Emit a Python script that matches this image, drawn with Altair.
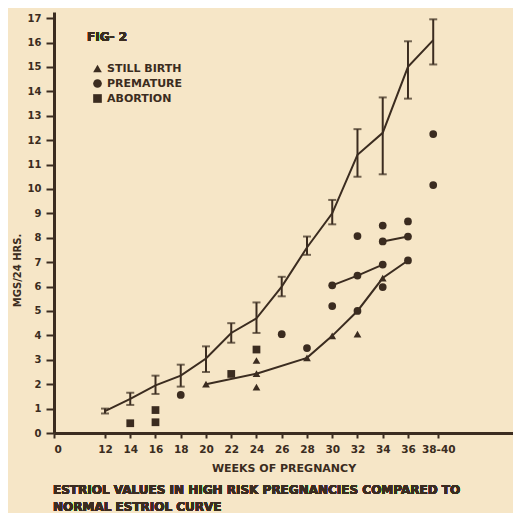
import altair as alt
import pandas as pd

INK = "#3b2c20"
PAPER = "#f6e6c7"
FONT = "DejaVu Sans"

# Normal estriol curve (mean with range bars)
norm_weeks = [12, 14, 16, 18, 20, 22, 24, 26, 28, 30, 32, 34, 36, 38]
norm_mean = [0.9, 1.4, 1.95, 2.35, 3.05, 4.1, 4.7, 6.0, 7.6, 9.0, 11.4, 12.3, 15.0, 16.1]
norm_low = [0.8, 1.15, 1.6, 1.9, 2.5, 3.7, 4.1, 5.6, 7.3, 8.55, 10.5, 10.6, 13.7, 15.1]
norm_high = [1.0, 1.65, 2.35, 2.8, 3.55, 4.5, 5.35, 6.4, 8.05, 9.55, 12.45, 13.75, 16.05, 16.95]

# Connected high-risk series
line_a_weeks = [20, 24, 28, 30, 32, 34, 36]
line_a_vals = [2.0, 2.43, 3.08, 3.98, 5.0, 6.35, 7.07]
line_b_weeks = [30, 32, 34]
line_b_vals = [6.05, 6.45, 6.9]
line_c_weeks = [34, 36]
line_c_vals = [7.85, 8.05]

# High-risk individual values
pt_weeks = [14, 16, 16, 18, 20, 22, 24, 24, 24, 24, 26, 28, 28, 30, 30, 30,
            32, 32, 32, 32, 34, 34, 34, 34, 34, 36, 36, 36, 38, 38]
pt_vals = [0.4, 0.94, 0.44, 1.56, 2.0, 2.42, 3.42, 2.97, 2.43, 1.88, 4.05, 3.48, 3.08, 6.05, 5.2, 3.98,
           8.07, 6.45, 5.0, 4.05, 8.5, 7.85, 6.9, 6.35, 5.98, 8.67, 8.05, 7.07, 12.25, 10.16]
pt_type = ["ABORTION", "ABORTION", "ABORTION", "PREMATURE", "STILL BIRTH", "ABORTION",
           "ABORTION", "STILL BIRTH", "STILL BIRTH", "STILL BIRTH", "PREMATURE", "PREMATURE",
           "STILL BIRTH", "PREMATURE", "PREMATURE", "STILL BIRTH",
           "PREMATURE", "PREMATURE", "PREMATURE", "STILL BIRTH",
           "PREMATURE", "PREMATURE", "PREMATURE", "STILL BIRTH", "PREMATURE",
           "PREMATURE", "PREMATURE", "PREMATURE", "PREMATURE", "PREMATURE"]

legend_order = ["STILL BIRTH", "PREMATURE", "ABORTION"]
x_ticks = [7.96, 12, 14, 16, 18, 20, 22, 24, 26, 28, 30, 32, 34, 36, 38.4]
y_ticks = list(range(0, 18))
caption_lines = ["ESTRIOL VALUES IN HIGH RISK PREGNANCIES COMPARED TO", "NORMAL ESTRIOL CURVE"]

W, H = 459, 421

normal = pd.DataFrame({"week": norm_weeks, "mean": norm_mean, "low": norm_low, "high": norm_high})
lines = pd.concat([
    pd.DataFrame({"week": line_a_weeks, "val": line_a_vals, "series": "a"}),
    pd.DataFrame({"week": line_b_weeks, "val": line_b_vals, "series": "b"}),
    pd.DataFrame({"week": line_c_weeks, "val": line_c_vals, "series": "c"}),
])
points = pd.DataFrame({"week": pt_weeks, "val": pt_vals, "type": pt_type})

xscale = alt.Scale(domain=[7.96, 44.32], nice=False, zero=False)
yscale = alt.Scale(domain=[0, 17.25], nice=False)

xaxis = alt.Axis(
    values=x_ticks, tickCount=40,
    labelExpr="datum.value < 10 ? '0' : (datum.value > 38 ? '38-40' : format(datum.value, 'd'))",
    title="WEEKS OF PREGNANCY", grid=False, labelOverlap=False, labelBound=False,
    domainColor=INK, domainWidth=3, tickColor=INK, tickWidth=2, tickSize=5,
    labelColor=INK, labelFont=FONT, labelFontSize=10.5, labelFontWeight="bold", labelPadding=6,
    titleColor=INK, titleFont=FONT, titleFontSize=11, titleFontWeight="bold", titlePadding=8,
)
yaxis = alt.Axis(
    values=y_ticks, tickCount=40, format="d", title="MGS/24 HRS.", grid=False,
    labelOverlap=False, labelBound=False,
    domainColor=INK, domainWidth=3, tickColor=INK, tickWidth=2, tickSize=8,
    labelColor=INK, labelFont=FONT, labelFontSize=10, labelFontWeight="bold", labelPadding=5,
    titleColor=INK, titleFont=FONT, titleFontSize=10, titleFontWeight="bold",
    titleAngle=-90, titleX=-37, titleY=258, titleAlign="center", titleBaseline="middle",
)

base_n = alt.Chart(normal)
norm_line = base_n.mark_line(color=INK, strokeWidth=2).encode(
    x=alt.X("week:Q", scale=xscale, axis=xaxis),
    y=alt.Y("mean:Q", scale=yscale, axis=yaxis),
)
norm_bar = base_n.mark_rule(color=INK, strokeWidth=2).encode(
    x="week:Q", y="low:Q", y2="high:Q")
norm_cap_lo = base_n.mark_tick(color=INK, orient="horizontal", size=8, thickness=2).encode(
    x="week:Q", y="low:Q")
norm_cap_hi = base_n.mark_tick(color=INK, orient="horizontal", size=8, thickness=2).encode(
    x="week:Q", y="high:Q")

risk_lines = alt.Chart(lines).mark_line(color=INK, strokeWidth=2).encode(
    x="week:Q", y="val:Q", detail="series:N")

risk_points = alt.Chart(points).mark_point(filled=True, color=INK, size=60, opacity=1).encode(
    x="week:Q", y="val:Q",
    shape=alt.Shape("type:N",
                    scale=alt.Scale(domain=legend_order, range=["triangle-up", "circle", "square"]),
                    sort=legend_order,
                    legend=alt.Legend(orient="none", legendX=38, legendY=51, title=None,
                                      symbolSize=75, symbolFillColor=INK, symbolStrokeColor=INK,
                                      labelColor=INK, labelFont=FONT, labelFontSize=11,
                                      labelFontWeight="bold", rowPadding=0, labelOffset=4)),
)

fig_label = alt.Chart(normal).mark_text(
    text="FIG- 2", color=INK, font=FONT, fontSize=12, fontWeight="bold",
    align="left", baseline="middle").encode(x=alt.value(33), y=alt.value(25))

cap1 = alt.Chart(normal).mark_text(
    text=caption_lines[0], color=INK, font=FONT, fontSize=12, fontWeight="bold",
    align="left", baseline="middle").encode(x=alt.value(-1), y=alt.value(H + 57))
cap2 = alt.Chart(normal).mark_text(
    text=caption_lines[1], color=INK, font=FONT, fontSize=12, fontWeight="bold",
    align="left", baseline="middle").encode(x=alt.value(-1), y=alt.value(H + 74))

chart = alt.layer(
    norm_line, norm_bar, norm_cap_lo, norm_cap_hi, risk_lines, risk_points, fig_label, cap1, cap2
).properties(
    width=W, height=H,
    autosize=alt.AutoSizeParams(type="none"),
    padding={"left": 46, "top": 4, "right": 0, "bottom": 80},
    background=PAPER,
).configure_view(stroke=None)

chart.save("out.html", embed_options={"renderer": "svg", "actions": False})
